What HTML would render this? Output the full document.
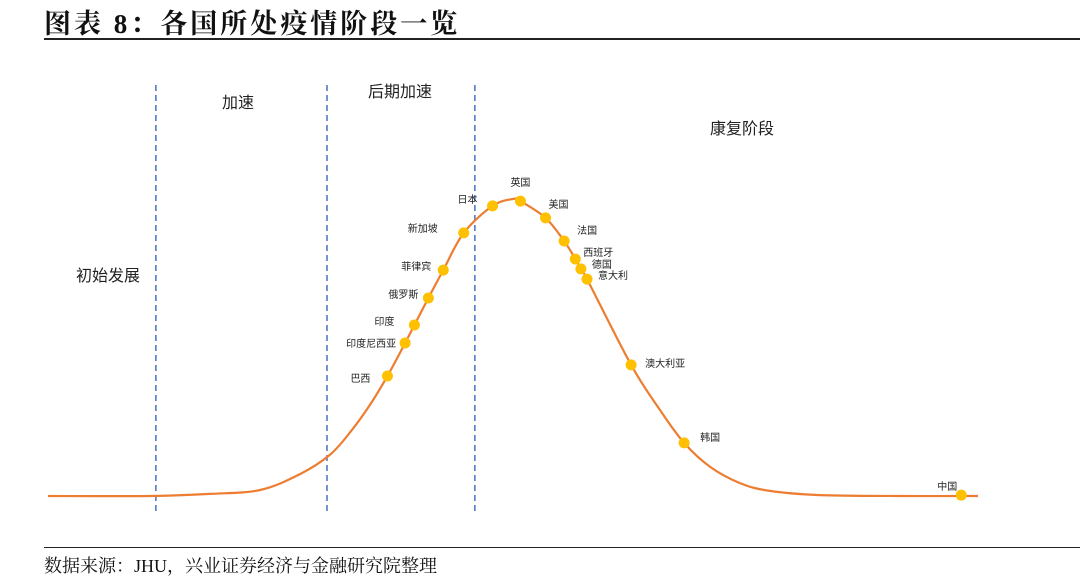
<!DOCTYPE html>
<html><head><meta charset="utf-8"><style>
body{margin:0;width:1080px;height:582px;background:#fff;overflow:hidden;position:relative;font-family:"Liberation Sans","Noto Sans CJK SC",sans-serif}
.title{position:absolute;left:44px;top:2px;font:bold 27px "Liberation Serif","Noto Serif CJK SC",serif;letter-spacing:3px;color:#111}
.src{position:absolute;left:44px;top:552px;font:18px "Liberation Serif","Noto Serif CJK SC",serif;color:#111}
</style></head><body>
<div class="title">图表 8：各国所处疫情阶段一览</div>
<div style="position:absolute;left:44px;top:38px;width:1036px;height:2px;background:#222"></div>
<div style="position:absolute;left:44px;top:547px;width:1036px;height:1px;background:#222"></div>
<div class="src">数据来源：JHU，兴业证券经济与金融研究院整理</div>
<svg id="chart" width="1080" height="582" style="position:absolute;left:0;top:0"></svg>
<script>
const curveX=[0,11,17.4,22.8,27.1,30.3,32.5,34.6,36.5,38.4,39.4,40.9,42.5,44.7,47.8,50,50.8,53.5,55.5,56.7,57.3,57.96,62.7,65.8,68.4,71.2,74.4,77.6,83,91.6,100];
const curveY=[0,0,0.7,2,7.3,13.7,21.3,30.3,40,51,57,66,75.3,87.7,96.7,99,98.3,92.7,85,79,75.7,72.3,43.7,28.7,17.7,9.7,4.3,1.7,0.3,0,0];
const countries=["巴西","印度尼西亚","印度","俄罗斯","菲律宾","新加坡","日本","英国","美国","法国","西班牙","德国","意大利","澳大利亚","韩国","中国"];
const countryX=[36.5,38.4,39.4,40.9,42.5,44.7,47.8,50.8,53.5,55.5,56.7,57.3,57.96,62.7,68.4,98.2];
const countryY=[40,51,57,66,75.3,87.7,96.7,98.3,92.7,85,79,75.7,72.3,43.7,17.7,0.3];
const phaseBounds=[11.6,30,45.9];
const phases=["初始发展","加速","后期加速","康复阶段"];
const sx=v=>48+v*9.3, sy=v=>496-v*3;
const NS="http://www.w3.org/2000/svg", svg=document.getElementById('chart');
function mk(t,a){const e=document.createElementNS(NS,t);for(const k in a)e.setAttribute(k,a[k]);svg.appendChild(e);return e;}
phaseBounds.forEach((b,i)=>{const l=mk('line',{x1:sx(b),x2:sx(b),y1:85,y2:512,stroke:'#4472c4','stroke-width':1.5,'stroke-dasharray':'6,4'});

});
const phasePos=[[108,281],[238,108],[400,97],[742,134]];
phases.forEach((p,i)=>{const t=mk('text',{x:phasePos[i][0],y:phasePos[i][1],'text-anchor':'middle','font-size':16,fill:'#222'});t.textContent=p;

});
const P=curveX.map((x,i)=>[sx(x),sy(curveY[i])]);
let d='M'+P[0][0]+','+P[0][1];
for(let i=0;i<P.length-1;i++){const p0=P[Math.max(0,i-1)],p1=P[i],p2=P[i+1],p3=P[Math.min(P.length-1,i+2)];
d+=' C'+(p1[0]+(p2[0]-p0[0])/6)+','+(p1[1]+(p2[1]-p0[1])/6)+' '+(p2[0]-(p3[0]-p1[0])/6)+','+(p2[1]-(p3[1]-p1[1])/6)+' '+p2[0]+','+p2[1];}
const c=mk('path',{d:d,fill:'none',stroke:'#ed7d31','stroke-width':2.2,'stroke-linejoin':'round'});


const lab=[[-1,-17,2],[-1,-9,0],[-1,-20,-4],[-1,-10,-4],[-1,-12,-4],[-1,-26,-5],[-1,-15,-7],[0,0,-19],[0,3,-14],[0,13,-11],[0,8,-7],[0,11,-5],[0,11,-4],[0,14,-2],[0,16,-6],[0,-24,-9]];
countries.forEach((n,i)=>{const x=sx(countryX[i]),y=sy(countryY[i]);
const dt=mk('circle',{cx:x,cy:y,r:5.5,fill:'#ffc000'});


const L=lab[i];const t=mk('text',{x:x+L[1],y:y+L[2]+4,'font-size':10,fill:'#222','text-anchor':L[0]<0?'end':(i==7?'middle':'start')});t.textContent=n;

});
</script>
</body></html>
